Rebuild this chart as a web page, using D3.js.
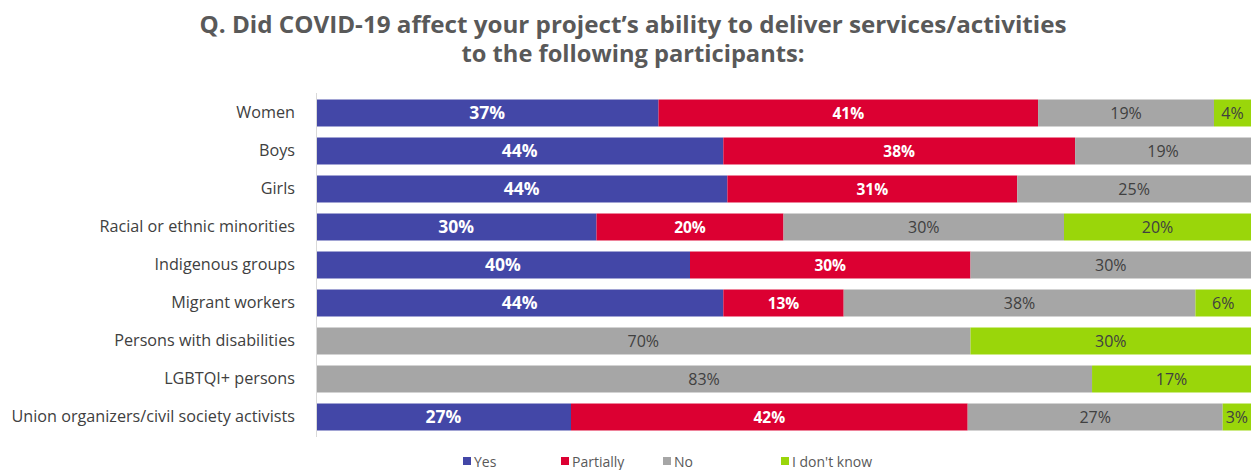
<!DOCTYPE html>
<html>
<head>
<meta charset="utf-8">
<script src="https://cdn.jsdelivr.net/npm/d3@7/dist/d3.min.js"></script>
<style>
  html, body { margin: 0; padding: 0; background: #fff; }
  svg { display: block; }
  text { font-family: "Open Sans", "Noto Sans", sans-serif; }
</style>
</head>
<body>
<svg id="chart" width="1251" height="470"></svg>
<script>
// Participant groups, top to bottom
const categories = [
  "Women", "Boys", "Girls", "Racial or ethnic minorities", "Indigenous groups",
  "Migrant workers", "Persons with disabilities", "LGBTQI+ persons",
  "Union organizers/civil society activists"
];
// Response series (percent of projects)
const seriesNames = ["Yes", "Partially", "No", "I don't know"];
const yesVals       = [37, 44, 44, 30, 40, 44, 0, 0, 27];
const partiallyVals = [41, 38, 31, 20, 30, 13, 0, 0, 42];
const noVals        = [19, 19, 25, 30, 30, 38, 70, 83, 27];
const dontKnowVals  = [4, 0, 0, 20, 0, 6, 30, 17, 3];
const titleLines = [
  "Q. Did COVID-19 affect your project\u2019s ability to deliver services/activities",
  "to the following participants:"
];

const colors = ["#4347A7", "#DC0032", "#A6A6A6", "#9AD60A"];
const labelFill = ["#ffffff", "#ffffff", "#404040", "#404040"];
const labelWeight = ["700", "700", "400", "400"];
const labelSize = [17.5, 15.5, 16, 16];

const seriesVals = [yesVals, partiallyVals, noVals, dontKnowVals];
const rows = categories.map((c, i) => {
  const r = { category: c };
  seriesNames.forEach((s, j) => { r[s] = seriesVals[j][i]; });
  return r;
});

const svg = d3.select("#chart");

// Title
svg.append("g").selectAll("text")
  .data(titleLines)
  .join("text")
  .attr("x", 633)
  .attr("y", (d, i) => 33 + i * 29)
  .attr("text-anchor", "middle")
  .attr("fill", "#595959")
  .attr("font-size", 23)
  .attr("font-weight", 700)
  .attr("textLength", (d, i) => i === 0 ? 867 : 343)
  .attr("lengthAdjust", "spacingAndGlyphs")
  .text(d => d);

const x = d3.scaleLinear().domain([0, 1]).range([316, 1251]);
const y = d3.scaleBand().domain(categories).range([94, 436])
  .paddingInner(0.29).paddingOuter(0.145);

// 100% stacked layout
const stack = d3.stack().keys(seriesNames).offset(d3.stackOffsetExpand);
const layers = stack(rows);

const g = svg.append("g");
const layerG = g.selectAll("g.layer")
  .data(layers)
  .join("g")
  .attr("class", "layer")
  .attr("fill", (d, i) => colors[i]);

layerG.selectAll("rect")
  .data(d => d.filter(p => p[1] - p[0] > 0))
  .join("rect")
  .attr("x", d => x(d[0]))
  .attr("y", d => y(d.data.category))
  .attr("width", d => x(d[1]) - x(d[0]))
  .attr("height", y.bandwidth());

// Value labels centred in each segment
layers.forEach((layer, li) => {
  g.append("g").selectAll("text")
    .data(layer.filter(p => p[1] - p[0] > 0))
    .join("text")
    .attr("x", d => (x(d[0]) + x(d[1])) / 2)
    .attr("y", d => y(d.data.category) + y.bandwidth() / 2)
    .attr("dy", "0.36em")
    .attr("text-anchor", "middle")
    .attr("fill", labelFill[li])
    .attr("font-weight", labelWeight[li])
    .attr("font-size", labelSize[li])
    .text(d => d.data[layer.key] + "%");
});

// Category axis
const yAxis = svg.append("g")
  .attr("transform", "translate(316,0)")
  .call(d3.axisLeft(y).tickSize(0).tickPadding(21));
yAxis.select(".domain")
  .attr("stroke", "#d9d9d9")
  .attr("d", "M0.5,93V437");
yAxis.selectAll("text")
  .attr("font-family", "'Open Sans', 'Noto Sans', sans-serif")
  .attr("font-size", 16.2)
  .attr("fill", "#404040");

// Legend
const legendX = [463, 561, 663, 781];
const legend = svg.append("g").selectAll("g")
  .data(seriesNames)
  .join("g")
  .attr("transform", (d, i) => `translate(${legendX[i]},462)`);
legend.append("rect")
  .attr("x", 0).attr("y", -5)
  .attr("width", 8).attr("height", 8)
  .attr("fill", (d, i) => colors[i]);
legend.append("text")
  .attr("x", 11).attr("y", 0)
  .attr("dy", "0.36em")
  .attr("font-size", 14)
  .attr("fill", "#595959")
  .text(d => d);
</script>
</body>
</html>
